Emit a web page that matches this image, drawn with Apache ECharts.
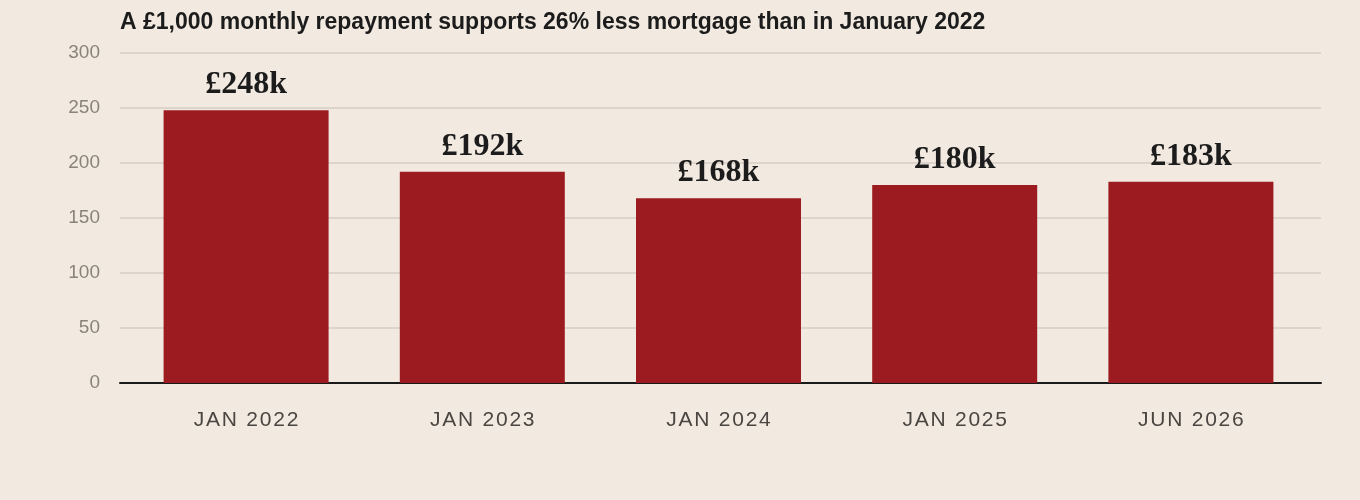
<!DOCTYPE html>
<html>
<head>
<meta charset="utf-8">
<script src="https://cdn.jsdelivr.net/npm/echarts@6/dist/echarts.min.js"></script>
<style>
  html, body { margin: 0; padding: 0; background: #f2eae1; }
  #main { width: 1360px; height: 500px; }
</style>
</head>
<body>
<div id="main"></div>
<script>
// data
var categories = ['JAN 2022', 'JAN 2023', 'JAN 2024', 'JAN 2025', 'JUN 2026'];
var values = [248, 192, 168, 180, 183];
var yTicks = [0, 50, 100, 150, 200, 250, 300];

var myChart = echarts.init(document.getElementById('main'));

var yBase = {
    type: 'value',
    min: yTicks[0],
    max: yTicks[yTicks.length - 1],
    interval: 50,
    axisLine: { show: false },
    axisTick: { show: false }
};

myChart.setOption({
    backgroundColor: '#f2eae1',
    animation: false,
    title: {
        text: 'A £1,000 monthly repayment supports 26% less mortgage than in January 2022',
        left: 115,
        top: 6,
        textStyle: {
            fontFamily: 'Liberation Sans',
            fontSize: 23,
            fontWeight: 'bold',
            color: '#1c1c1c'
        }
    },
    // grid 0: gridlines, y labels and baseline across full width
    // grid 1: the bars, slightly inset
    grid: [
        { left: 120, right: 39, top: 53, bottom: 117 },
        { left: 128, right: 51, top: 53, bottom: 117 }
    ],
    xAxis: [{
        type: 'category',
        gridIndex: 0,
        data: categories,
        axisLine: { lineStyle: { color: '#1a1a1a', width: 2 } },
        axisTick: { show: false },
        axisLabel: { show: false }
    }, {
        type: 'category',
        gridIndex: 1,
        data: categories,
        axisLine: { show: false },
        axisTick: { show: false },
        axisLabel: {
            margin: 27,
            fontFamily: 'Liberation Sans',
            fontSize: 21,
            color: '#4a4540',
            formatter: function (v) { return v.split('').join('\u200A'); }
        }
    }],
    yAxis: [Object.assign({}, yBase, {
        gridIndex: 0,
        splitLine: { lineStyle: { color: '#ddd5cb', width: 2 } },
        axisLabel: {
            margin: 20,
            padding: [4, 0, 0, 0],
            fontFamily: 'Liberation Sans',
            fontSize: 19,
            color: '#8a8379'
        }
    }), Object.assign({}, yBase, {
        gridIndex: 1,
        splitLine: { show: false },
        axisLabel: { show: false }
    })],
    series: [{
        type: 'bar',
        xAxisIndex: 1,
        yAxisIndex: 1,
        data: values,
        barWidth: 165,
        itemStyle: { color: '#9b1b20' },
        label: {
            show: true,
            position: 'top',
            distance: 9,
            formatter: function (p) { return '£' + p.value + 'k'; },
            fontFamily: 'Liberation Serif',
            fontWeight: 'bold',
            fontSize: 32,
            color: '#1c1c1c'
        }
    }]
});
</script>
</body>
</html>
